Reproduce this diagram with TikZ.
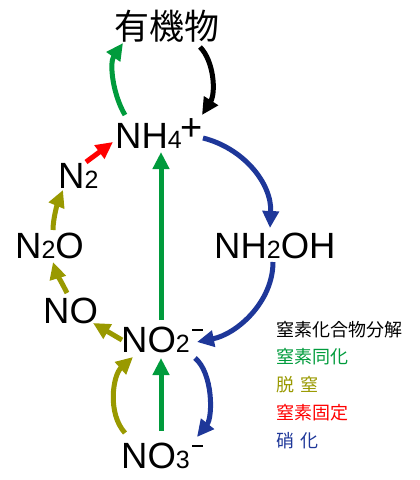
\documentclass[tikz,border=0pt]{standalone}
\usepackage{fontspec}
\setmainfont{Liberation Sans}
\newfontfamily\cjk{Noto Sans CJK JP}
\usetikzlibrary{arrows.meta}
\definecolor{cgreen}{RGB}{0,155,60}
\definecolor{colive}{RGB}{153,153,0}
\definecolor{cred}{RGB}{255,0,0}
\definecolor{cblue}{RGB}{30,55,153}
\newcommand\chsub[1]{{\fontsize{25}{25}\selectfont #1}}
\newcommand\chminus{\kern2.5pt\raisebox{21pt}{\rule{11pt}{2.2pt}}}
\newcommand\chplus{\kern-1pt\raisebox{8pt}{\fontsize{38}{38}\selectfont +}}
\begin{document}
\begin{tikzpicture}[x=1pt,y=-1pt,
  chem/.style={anchor=base west,inner sep=0pt,font=\fontsize{36.5}{36.5}\selectfont},
  legend/.style={anchor=west,inner sep=0pt,font=\cjk\fontsize{18}{18}\selectfont},
  arr/.style={line width=5pt,-{Triangle[length=17pt,width=16pt]}}]
\useasboundingbox (0,0) rectangle (420,480);
\node[inner sep=0pt,font=\cjk\fontsize{35}{35}\selectfont] (org) at (167,26) {有機物};
\node[chem] (nh4) at (115,148) {NH\chsub{4}\chplus};
\node[chem] (n2) at (58,188) {N\chsub{2}};
\node[chem] (n2o) at (15,258) {N\chsub{2}O};
\node[chem] (no) at (43,323) {NO};
\node[chem] (no2) at (121,352) {NO\chsub{2}\chminus};
\node[chem] (no3) at (121,468) {NO\chsub{3}\chminus};
\node[chem] (nh2oh) at (214,258) {NH\chsub{2}OH};
\node[legend,text=black] (l1) at (276,330) {窒素化合物分解};
\node[legend,text=cgreen] (l2) at (276,357) {窒素同化};
\node[legend,text=colive] (l3) at (276,385) {脱\kern6pt 窒};
\node[legend,text=cred] (l4) at (276,413) {窒素固定};
\node[legend,text=cblue] (l5) at (276,441) {硝\kern6pt 化};
% arrows
\draw[arr,cgreen] ([shift={(10,-33)}]nh4.base west) .. controls +(-12,-20) and +(-14,20) .. ([shift={(-44,17)}]org.center);
\draw[arr,black] ([shift={(33,21)}]org.center) .. controls +(14,14) and +(14,-22) .. ([shift={(87,-33)}]nh4.base west);
\draw[arr,cblue] ([shift={(88,-10)}]nh4.base west) .. controls +(40,10) and +(2,-45) .. ([shift={(56,-30)}]nh2oh.base west);
\draw[arr,cblue] ([shift={(59,4)}]nh2oh.base west) .. controls +(0,40) and +(40,-8) .. ([shift={(76,-10)}]no2.base west);
\draw[arr,cgreen] ([shift={(40,-32)}]no2.base west) -- ([shift={(46,4)}]nh4.base west);
\draw[arr,cred] ([shift={(28,-26)}]n2.base west) -- ([shift={(-2,-6)}]nh4.base west);
\draw[arr,colive] ([shift={(38,-28)}]n2o.base west) .. controls +(0,-12) and +(-5,12) .. ([shift={(5,2)}]n2.base west);
\draw[arr,colive] ([shift={(24,-30)}]no.base west) .. controls +(-5,-10) and +(3,10) .. ([shift={(38,4)}]n2o.base west);
\draw[arr,colive] ([shift={(1,-12)}]no2.base west) -- ([shift={(50,0)}]no.base west);
\draw[arr,colive] ([shift={(4,-35)}]no3.base west) .. controls +(-18,-20) and +(-20,18) .. ([shift={(12,5)}]no2.base west);
\draw[arr,cgreen] ([shift={(40,-37)}]no3.base west) -- ([shift={(40,6)}]no2.base west);
\draw[arr,cblue] ([shift={(74,6)}]no2.base west) .. controls +(18,15) and +(16,-20) .. ([shift={(76,-31)}]no3.base west);
\end{tikzpicture}
\end{document}
